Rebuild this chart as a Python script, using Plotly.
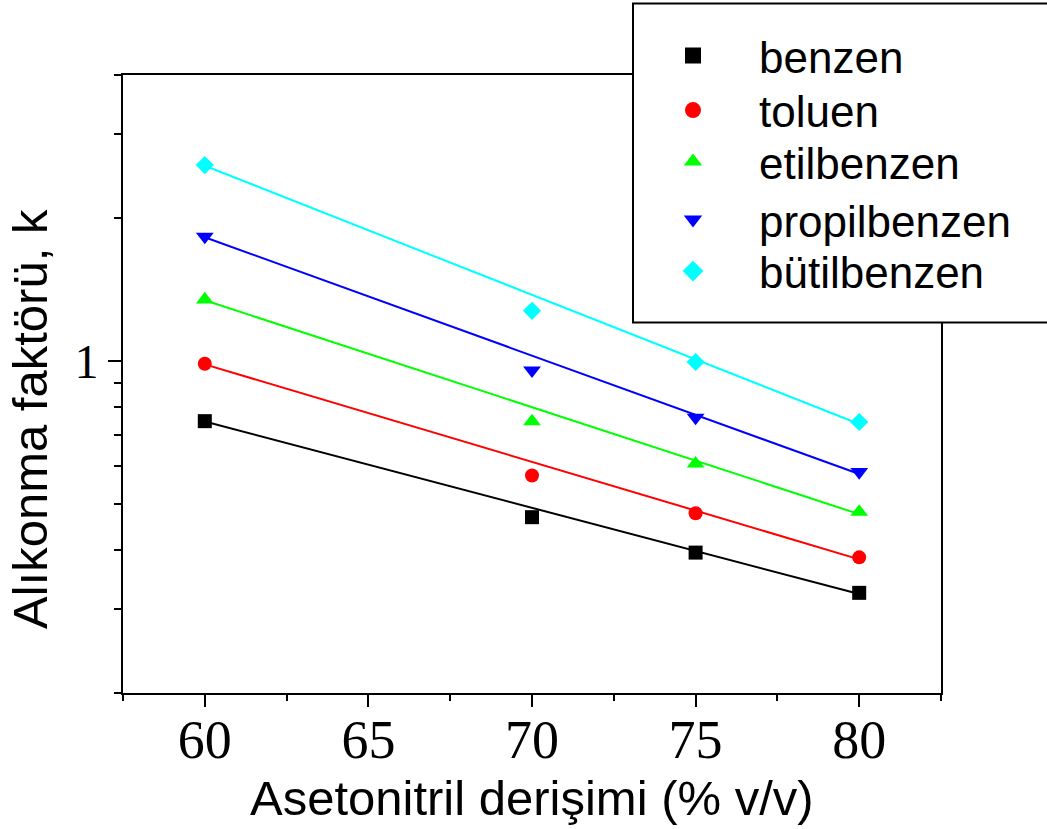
import numpy as np
import plotly.graph_objects as go

# ---- data ----
x_vals = [60, 70, 75, 80]
benzen = [0.747, 0.469, 0.395, 0.325]
toluen = [0.987, 0.574, 0.478, 0.386]
etilbenzen = [1.347, 0.746, 0.608, 0.481]
propilbenzen = [1.828, 0.956, 0.760, 0.584]
butilbenzen = [2.585, 1.275, 0.995, 0.744]

# the reference's fitted lines (log-linear) are based on the 60, 75 and 80 points
fit_points_x = [60, 75, 80]

names = ["benzen", "toluen", "etilbenzen", "propilbenzen", "bütilbenzen"]
series = [benzen, toluen, etilbenzen, propilbenzen, butilbenzen]
colors = ["#000000", "#FF0000", "#00FF00", "#0000FF", "#00FFFF"]
symbols = ["square", "circle", "triangle-up", "triangle-down", "diamond"]
marker_sizes = [14, 14, 15.5, 15.5, 14]

x_major = [60, 65, 70, 75, 80]
x_minor = [57.5, 62.5, 67.5, 72.5, 77.5, 82.5]
y_major = [1]
y_minor = [0.2, 0.3, 0.4, 0.5, 0.6, 0.7, 0.8, 0.9, 2, 3, 4]

# ---- layout geometry ----
W, H = 1047, 829
ML, MR, MT, MB = 123, 106, 75, 136
PW, PH = W - ML - MR, H - MT - MB

def px_to_paper_x(px):
    return (px - ML) / PW

def px_to_paper_y(py):
    return (H - MB - py) / PH

SANS = "Liberation Sans, Arial, Helvetica, sans-serif"
SERIF = "Liberation Serif, Times New Roman, serif"

fig = go.Figure()

legend_ids = ["legend", "legend2", "legend3", "legend4", "legend5"]
fit_x = [x_vals[0], x_vals[-1]]
for name, vals, col, sym, ms, lid in zip(names, series, colors, symbols, marker_sizes, legend_ids):
    sel = [i for i, xv in enumerate(x_vals) if xv in fit_points_x]
    fx = np.array([x_vals[i] for i in sel], float)
    fy = np.log10([vals[i] for i in sel])
    slope, icpt = np.polyfit(fx, fy, 1)
    fit_y = [10 ** (icpt + slope * xx) for xx in fit_x]
    fig.add_trace(go.Scatter(
        x=fit_x, y=fit_y, mode="lines",
        line=dict(color=col, width=2),
        showlegend=False, hoverinfo="skip"))
    fig.add_trace(go.Scatter(
        x=x_vals, y=vals, mode="markers", name=name,
        marker=dict(symbol=sym, size=ms, color=col, line=dict(width=0)),
        showlegend=False))
    # legend entry (slightly larger symbol, as in the reference legend)
    fig.add_trace(go.Scatter(
        x=[None], y=[None], mode="markers", name=name,
        marker=dict(symbol=sym, size=16, color=col, line=dict(width=0)),
        legend=lid, hoverinfo="skip"))

axis_common = dict(
    showline=True, linecolor="black", linewidth=2, mirror=True,
    showgrid=False, zeroline=False, ticks="outside",
    tickcolor="black", tickwidth=2,
)

fig.update_xaxes(
    **axis_common,
    range=[57.5, 82.5],
    tickmode="array", tickvals=x_major, ticktext=[str(v) for v in x_major],
    ticklen=12, ticklabelstandoff=-14,
    tickfont=dict(family=SERIF, size=54, color="black"),
    minor=dict(tickmode="array", tickvals=x_minor, ticks="outside",
               ticklen=6, tickwidth=2, tickcolor="black", showgrid=False),
)
fig.update_yaxes(
    **axis_common,
    type="log",
    range=[np.log10(0.2), np.log10(4)],
    tickmode="array", tickvals=y_major, ticktext=["1"],
    ticklen=13,
    tickfont=dict(family=SERIF, size=48, color="black"),
    minor=dict(tickmode="array", tickvals=y_minor, ticks="outside",
               ticklen=7, tickwidth=2, tickcolor="black", showgrid=False),
)

# legend box
fig.add_shape(type="rect", xref="paper", yref="paper",
              x0=px_to_paper_x(633), x1=px_to_paper_x(1100),
              y0=px_to_paper_y(322.5), y1=px_to_paper_y(3.5),
              line=dict(color="black", width=2), fillcolor="white", layer="above")

row_y = [56, 110.5, 162, 220, 271.5]
layout_legends = {}
for lid, ry in zip(legend_ids, row_y):
    layout_legends[lid] = dict(
        x=px_to_paper_x(627), xanchor="left",
        y=px_to_paper_y(ry), yanchor="middle",
        bgcolor="rgba(0,0,0,0)", borderwidth=0,
        font=dict(family=SANS, size=44, color="black"),
        itemwidth=122,
    )

fig.update_layout(
    width=W, height=H,
    margin=dict(l=ML, r=MR, t=MT, b=MB, autoexpand=False),
    paper_bgcolor="white", plot_bgcolor="white",
    showlegend=True,
    **layout_legends,
    annotations=[
        dict(text="Asetonitril derişimi (% v/v)", xref="paper", yref="paper",
             x=px_to_paper_x(532), y=px_to_paper_y(798), xanchor="center", yanchor="middle",
             showarrow=False, font=dict(family=SANS, size=49, color="black")),
        dict(text="Alıkonma faktörü, k", xref="paper", yref="paper",
             x=px_to_paper_x(30), y=px_to_paper_y(419), xanchor="center", yanchor="middle",
             textangle=-90, showarrow=False,
             font=dict(family=SANS, size=49, color="black")),
    ],
)

fig.write_html("out.html")
